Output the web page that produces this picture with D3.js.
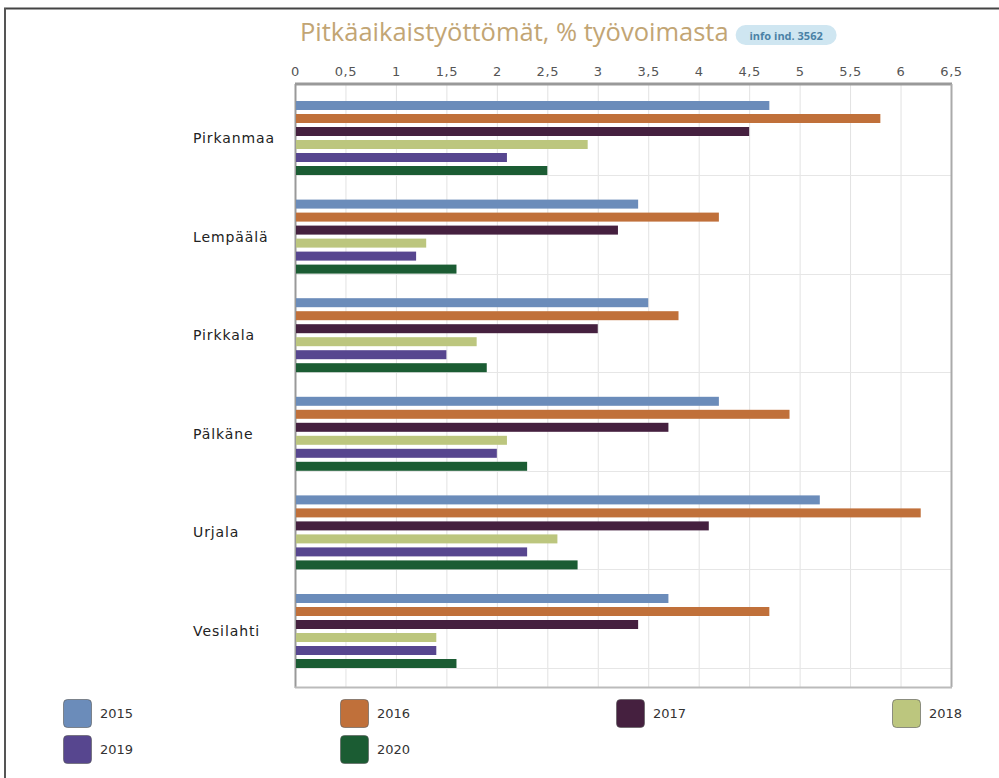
<!DOCTYPE html>
<html>
<head>
<meta charset="utf-8">
<script src="https://cdn.jsdelivr.net/npm/d3@7"></script>
<style>
  body { margin: 0; background: #fff; }
  svg { display: block; font-family: "DejaVu Sans", sans-serif; }
</style>
</head>
<body>
<div id="chart"></div>
<script>
const categories = ["Pirkanmaa", "Lempäälä", "Pirkkala", "Pälkäne", "Urjala", "Vesilahti"];
const years = ["2015", "2016", "2017", "2018", "2019", "2020"];
const colors = ["#6b8cba", "#c0703a", "#45203f", "#bcc67e", "#57468f", "#1b5c33"];
const v2015 = [4.7, 3.4, 3.5, 4.2, 5.2, 3.7];
const v2016 = [5.8, 4.2, 3.8, 4.9, 6.2, 4.7];
const v2017 = [4.5, 3.2, 3.0, 3.7, 4.1, 3.4];
const v2018 = [2.9, 1.3, 1.8, 2.1, 2.6, 1.4];
const v2019 = [2.1, 1.2, 1.5, 2.0, 2.3, 1.4];
const v2020 = [2.5, 1.6, 1.9, 2.3, 2.8, 1.6];
const tickValues = [0, 0.5, 1, 1.5, 2, 2.5, 3, 3.5, 4, 4.5, 5, 5.5, 6, 6.5];

const series = [v2015, v2016, v2017, v2018, v2019, v2020];
const width = 999, height = 778;
const plot = { left: 295, right: 951, top: 84, bottom: 687 };

const svg = d3.select("#chart").append("svg")
  .attr("width", width).attr("height", height);

// page frame
svg.append("line").attr("x1", 4).attr("x2", width).attr("y1", 8.5).attr("y2", 8.5)
  .attr("stroke", "#444").attr("stroke-width", 2);
svg.append("line").attr("x1", 5).attr("x2", 5).attr("y1", 8).attr("y2", height)
  .attr("stroke", "#555").attr("stroke-width", 2);

// title
const title = svg.append("text")
  .attr("x", 300).attr("y", 41)
  .attr("font-family", "'Open Sans', sans-serif")
  .attr("font-size", 25.5).attr("fill", "#c2a574")
  .text("Pitkäaikaistyöttömät, % työvoimasta");
const tw = title.node().getComputedTextLength();
const bx = 300 + tw + 7;
svg.append("rect").attr("x", bx).attr("y", 25).attr("width", 101).attr("height", 20)
  .attr("rx", 10).attr("fill", "#cfe6f1");
svg.append("text").attr("x", bx + 50.5).attr("y", 39.5).attr("text-anchor", "middle")
  .attr("font-family", "'Open Sans', sans-serif")
  .attr("font-size", 11).attr("font-weight", "bold").attr("fill", "#4b82a6")
  .text("info ind. 3562");

const x = d3.scaleLinear().domain([0, 6.5]).range([plot.left, plot.right]);
const y = d3.scaleBand().domain(categories).range([88.7, 680.3]);
const yInner = d3.scaleBand().domain(years).range([-37, 37]).paddingInner(4 / 13);

// vertical grid
svg.append("g").selectAll("line").data(tickValues.slice(1, -1)).join("line")
  .attr("x1", d => x(d) + 0.5).attr("x2", d => x(d) + 0.5)
  .attr("y1", plot.top).attr("y2", plot.bottom)
  .attr("stroke", "#e2e2e2");

// horizontal grid under each group
svg.append("g").selectAll("line").data(categories).join("line")
  .attr("x1", plot.left).attr("x2", plot.right)
  .attr("y1", d => Math.round(y(d) + y.bandwidth() / 2 + 37) + 0.5)
  .attr("y2", d => Math.round(y(d) + y.bandwidth() / 2 + 37) + 0.5)
  .attr("stroke", "#e6e6e6");

// top axis
const xAxis = d3.axisTop(x).tickValues(tickValues).tickSize(0).tickPadding(8)
  .tickFormat(d => String(d).replace(".", ","));
const gx = svg.append("g").attr("transform", `translate(0,${plot.top})`).call(xAxis);
gx.select(".domain").remove();
gx.selectAll("text").attr("font-size", 13).attr("fill", "#555")
  .attr("letter-spacing", 0.6)
  .attr("font-family", "'DejaVu Sans', sans-serif");

// plot frame
svg.append("rect").attr("x", plot.left + 0.5).attr("y", plot.top + 0.5)
  .attr("width", plot.right - plot.left).attr("height", plot.bottom - plot.top)
  .attr("fill", "none").attr("stroke", "#aaa").attr("stroke-width", 1);
svg.append("line").attr("x1", plot.left).attr("x2", plot.right + 1)
  .attr("y1", plot.top).attr("y2", plot.top).attr("stroke", "#999").attr("stroke-width", 3);
svg.append("line").attr("x1", plot.left + 0.5).attr("x2", plot.left + 0.5)
  .attr("y1", plot.top).attr("y2", plot.bottom + 1).attr("stroke", "#999").attr("stroke-width", 2);
svg.append("line").attr("x1", plot.right + 0.5).attr("x2", plot.right + 0.5)
  .attr("y1", plot.top).attr("y2", plot.bottom).attr("stroke", "#aaa").attr("stroke-width", 2);
svg.append("line").attr("x1", plot.left).attr("x2", plot.right + 1)
  .attr("y1", plot.bottom + 0.5).attr("y2", plot.bottom + 0.5).attr("stroke", "#bbb").attr("stroke-width", 2);

// bars
const groups = svg.append("g").selectAll("g").data(categories).join("g")
  .attr("transform", d => `translate(0,${y(d) + y.bandwidth() / 2})`);
groups.selectAll("rect").data((c, i) => years.map((yr, j) => ({ yr, j, v: series[j][i] })))
  .join("rect")
  .attr("x", plot.left + 1)
  .attr("y", d => yInner(d.yr))
  .attr("width", d => x(d.v) - plot.left - 1)
  .attr("height", yInner.bandwidth())
  .attr("fill", d => colors[d.j]);

// category labels
svg.append("g").selectAll("text").data(categories).join("text")
  .attr("x", 193).attr("y", d => y(d) + y.bandwidth() / 2 + 5)
  .attr("font-size", 14).attr("letter-spacing", 0.9).attr("fill", "#222")
  .text(d => d);

// legend
const legX = [63, 340, 616, 892];
const leg = svg.append("g").selectAll("g").data(years).join("g")
  .attr("transform", (d, i) => `translate(${legX[i % 4]},${699 + Math.floor(i / 4) * 36})`);
leg.append("rect").attr("x", 0.5).attr("y", 0.5).attr("width", 28).attr("height", 28).attr("rx", 4)
  .attr("fill", (d, i) => colors[i]).attr("stroke", "#555").attr("stroke-opacity", 0.6);
leg.append("text").attr("x", 37).attr("y", 19).attr("font-size", 13).attr("fill", "#333")
  .text(d => d);
</script>
</body>
</html>
